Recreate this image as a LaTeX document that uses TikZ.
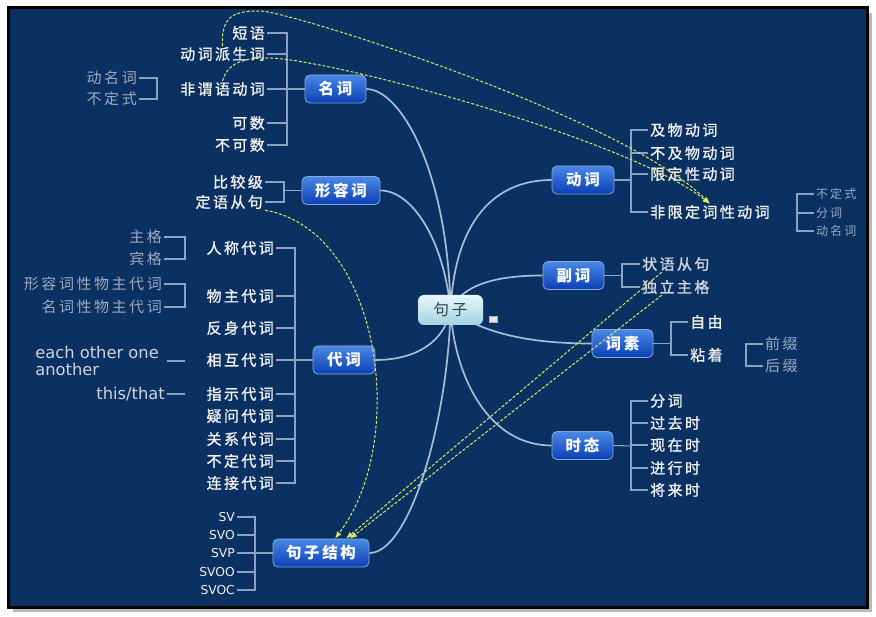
\documentclass[tikz,border=0pt]{standalone}
\usepackage{fontspec}
\setmainfont{Noto Sans CJK SC}
\newfontfamily\cjk[LetterSpace=17]{Noto Sans CJK SC}
\newfontfamily\cjkh[LetterSpace=16,FakeBold=1.2]{Noto Sans CJK SC}
\newfontfamily\en{DejaVu Sans}
\usetikzlibrary{arrows.meta,backgrounds}
\definecolor{bg}{HTML}{0B3162}
\definecolor{branch}{HTML}{A9BDD6}
\definecolor{brk}{HTML}{8CA3C4}
\definecolor{leafc}{HTML}{F2F2F2}
\definecolor{greyc}{HTML}{9DAAC0}
\definecolor{advc}{HTML}{D2D8E2}
\definecolor{enc}{HTML}{CDD4DF}
\definecolor{rel}{HTML}{D6EC62}
\definecolor{btop}{HTML}{4A88E6}
\definecolor{bbot}{HTML}{0B3FB4}
\definecolor{bline}{HTML}{86A8E0}
\definecolor{ctop}{HTML}{E6F7FB}
\definecolor{cbot}{HTML}{A4D3E1}
\definecolor{ctext}{HTML}{35414C}
\tikzset{
  topic/.style={draw=bline, line width=0.8pt, rounded corners=5pt, top color=btop, bottom color=bbot,
    minimum height=28pt, text=white, font=\cjk\fontsize{15.5}{18}\selectfont\bfseries, inner sep=0pt},
  centre/.style={rounded corners=6pt, top color=ctop, bottom color=cbot, minimum width=65pt,
    minimum height=30pt, text=ctext, font=\cjk\fontsize{15.5}{18}\selectfont, inner sep=0pt},
  lf/.style={inner xsep=2pt, inner ysep=1pt, text=leafc, font=\cjkh\fontsize{15}{18}\selectfont},
  gl/.style={lf, text=greyc, font=\cjk\fontsize{15}{18}\selectfont},
  al/.style={lf, text=advc},
  gs/.style={inner xsep=2pt, inner ysep=1pt, text=greyc, font=\cjk\fontsize{12}{14}\selectfont},
  enl/.style={inner xsep=2pt, inner ysep=1pt, text=enc, font=\en\fontsize{16.3}{17}\selectfont},
  svl/.style={inner xsep=2pt, inner ysep=1pt, text=leafc, font=\en\fontsize{12.3}{14}\selectfont},
  brline/.style={draw=brk, line width=1.1pt},
  mainline/.style={draw=branch, line width=1.7pt},
  relline/.style={draw=rel, line width=1pt, dash pattern=on 3pt off 1.8pt,
    -{Latex[length=7pt,width=5.5pt,fill=rel]}},
}
\begin{document}
\begin{tikzpicture}[x=1pt,y=-1pt]
\useasboundingbox (0,0) rectangle (876,617);
% ---- centre and topics
\node[centre] (c) at (450.5,310) {句子};
\node[draw=gray!60, fill=gray!20, minimum width=8pt, minimum height=6pt, inner sep=0pt] (ic) at (493,319) {};
\node[topic, minimum width=61pt] (noun) at (335.5,89) {名词};
\node[topic, minimum width=78pt] (adj) at (341,190.5) {形容词};
\node[topic, minimum width=62pt] (pron) at (344,360) {代词};
\node[topic, minimum width=96pt] (sent) at (321,553) {句子结构};
\node[topic, minimum width=62pt] (verb) at (583,180) {动词};
\node[topic, minimum width=61pt] (adv) at (573.5,275.5) {副词};
\node[topic, minimum width=61pt] (morph) at (622.5,343.5) {词素};
\node[topic, minimum width=61pt] (tense) at (582.5,445.5) {时态};
% ---- noun leaves
\node[lf,anchor=east] (dy) at (267,33) {短语};
\node[lf,anchor=east] (dcps) at (267,54) {动词派生词};
\node[lf,anchor=east] (fwd) at (267,89) {非谓语动词};
\node[lf,anchor=east] (ks) at (267,123) {可数};
\node[lf,anchor=east] (bks) at (267,145) {不可数};
\coordinate (nj) at (287,89);
\draw[brline] (nj) -- (noun.west);
\foreach \n in {dy,dcps,fwd,ks,bks} \draw[brline] (\n.east) -| (nj);
\node[gl,anchor=east] (dmc) at (139,78) {动名词};
\node[gl,anchor=east] (bdsA) at (139,99) {不定式};
\coordinate (fj) at (157,88.5);
\foreach \n in {dmc,bdsA} \draw[brline] (\n.east) -| (fj);
% ---- adjective leaves
\node[lf,anchor=east] (bjj) at (265,182) {比较级};
\node[lf,anchor=east] (dyc) at (265,202) {定语从句};
\coordinate (adjj) at (284,190.5);
\draw[brline] (adjj) -- (adj.west);
\foreach \n in {bjj,dyc} \draw[brline] (\n.east) -| (adjj);
% ---- pronoun leaves
\node[lf,anchor=east] (p1) at (276,248) {人称代词};
\node[lf,anchor=east] (p2) at (276,296) {物主代词};
\node[lf,anchor=east] (p3) at (276,328) {反身代词};
\node[lf,anchor=east] (p4) at (276,360) {相互代词};
\node[lf,anchor=east] (p5) at (276,394) {指示代词};
\node[lf,anchor=east] (p6) at (276,416) {疑问代词};
\node[lf,anchor=east] (p7) at (276,439) {关系代词};
\node[lf,anchor=east] (p8) at (276,461) {不定代词};
\node[lf,anchor=east] (p9) at (276,483) {连接代词};
\coordinate (pj) at (295,360);
\draw[brline] (pj) -- (pron.west);
\foreach \n in {p1,p2,p3,p4,p5,p6,p7,p8,p9} \draw[brline] (\n.east) -| (pj);
\node[gl,anchor=east] (zg) at (164,237) {主格};
\node[gl,anchor=east] (bg) at (164,259) {宾格};
\coordinate (cj) at (185,248);
\foreach \n in {zg,bg} \draw[brline] (\n.east) -| (cj);
\node[gl,anchor=east] (xr) at (164,284) {形容词性物主代词};
\node[gl,anchor=east] (mc) at (164,307) {名词性物主代词};
\coordinate (poj) at (185,295.5);
\foreach \n in {xr,mc} \draw[brline] (\n.east) -| (poj);
\node[enl,anchor=east,align=left] (eo) at (161,360.5) {each other one\\another};
\coordinate (eoj) at (185,361);
\draw[brline, shorten <=6pt] (eo.east |- eoj) -- (eoj);
\node[enl,anchor=east] (tt) at (167,394) {this/that};
\coordinate (ttj) at (185,394);
\draw[brline] (tt.east) -- (ttj);
% ---- sentence structure leaves
\node[svl,anchor=east] (s1) at (237,517) {SV};
\node[svl,anchor=east] (s2) at (237,535) {SVO};
\node[svl,anchor=east] (s3) at (237,553) {SVP};
\node[svl,anchor=east] (s4) at (237,572) {SVOO};
\node[svl,anchor=east] (s5) at (237,590) {SVOC};
\coordinate (sj) at (255,553);
\draw[brline] (sj) -- (sent.west);
\foreach \n in {s1,s2,s3,s4,s5} \draw[brline] (\n.east) -| (sj);
% ---- verb leaves
\node[lf,anchor=west] (v1) at (648,130) {及物动词};
\node[lf,anchor=west] (v2) at (648,153) {不及物动词};
\node[lf,anchor=west] (v3) at (648,174) {限定性动词};
\node[lf,anchor=west] (v4) at (648,212) {非限定词性动词};
\coordinate (vj) at (631,180);
\draw[brline] (verb.east) -- (vj);
\foreach \n in {v1,v2,v3,v4} \draw[brline] (\n.west) -| (vj);
\node[gs,anchor=west] (n1) at (814,194) {不定式};
\node[gs,anchor=west] (n2) at (814,213) {分词};
\node[gs,anchor=west] (n3) at (814,231) {动名词};
\coordinate (nfj) at (797,212.5);
\foreach \n in {n1,n2,n3} \draw[brline] (\n.west) -| (nfj);
% ---- adverb leaves
\node[al,anchor=west] (zy) at (640,264) {状语从句};
\node[al,anchor=west] (dl) at (640,287) {独立主格};
\coordinate (aj) at (622,275.5);
\draw[brline] (adv.east) -- (aj);
\foreach \n in {zy,dl} \draw[brline] (\n.west) -| (aj);
% ---- morpheme leaves
\node[lf,anchor=west] (zyo) at (688,322) {自由};
\node[lf,anchor=west] (nz) at (688,355) {粘着};
\coordinate (mj) at (671,343.5);
\draw[brline] (morph.east) -- (mj);
\foreach \n in {zyo,nz} \draw[brline] (\n.west) -| (mj);
\node[gl,anchor=west] (qz) at (763,344) {前缀};
\node[gl,anchor=west] (hz) at (763,366) {后缀};
\coordinate (afj) at (746,355);
\foreach \n in {qz,hz} \draw[brline] (\n.west) -| (afj);
% ---- tense leaves
\node[lf,anchor=west] (t1) at (648,401) {分词};
\node[lf,anchor=west] (t2) at (648,423) {过去时};
\node[lf,anchor=west] (t3) at (648,445) {现在时};
\node[lf,anchor=west] (t4) at (648,468) {进行时};
\node[lf,anchor=west] (t5) at (648,490) {将来时};
\coordinate (tj) at (631,446);
\draw[brline] (tense.east) -- (tj);
\foreach \n in {t1,t2,t3,t4,t5} \draw[brline] (\n.west) -| (tj);
% ---- relations
\draw[relline] (dcps.north) .. controls (221,15) and (235,11) .. (260,11)
   .. controls (290,11) and (625,118) .. (v4.north);
\draw[relline] (fwd.north) .. controls (228,62) and (245,58) .. (267,58)
   .. controls (330,58) and (630,140) .. (v4.north);
\draw[relline] (dyc.south east) .. controls (380,230) and (410,440) .. ([xshift=14pt]sent.north);
\draw[relline] ([xshift=-14pt]zy.south) -- ([xshift=25pt]sent.north);
\draw[relline] ([xshift=-14pt]dl.south) -- ([xshift=29pt]sent.north);
% ---- background: frame and main branches
\begin{scope}[on background layer]
  \fill[white] (0,0) rectangle (876,617);
  \fill[gray!55] (13,13) rectangle (872,612);
  \fill[bg] (8,8) rectangle (867,607);
  \draw[black, line width=3pt] (8,8) rectangle (867,607);
  \draw[mainline] (c.center) .. controls (448,170) and (400,89) .. (noun.east);
  \draw[mainline] (c.center) .. controls (444,240) and (412,190.5) .. (adj.east);
  \draw[mainline] (c.center) .. controls (445,340) and (418,360) .. (pron.east);
  \draw[mainline] (c.center) .. controls (448,420) and (410,553) .. (sent.east);
  \draw[mainline] (c.center) .. controls (455,220) and (495,180) .. (verb.west);
  \draw[mainline] (c.center) .. controls (462,285) and (495,275.5) .. (adv.west);
  \draw[mainline] (c.center) .. controls (482,332) and (525,343.5) .. (morph.west);
  \draw[mainline] (c.center) .. controls (455,380) and (490,445.5) .. (tense.west);
\end{scope}
\end{tikzpicture}
\end{document}
